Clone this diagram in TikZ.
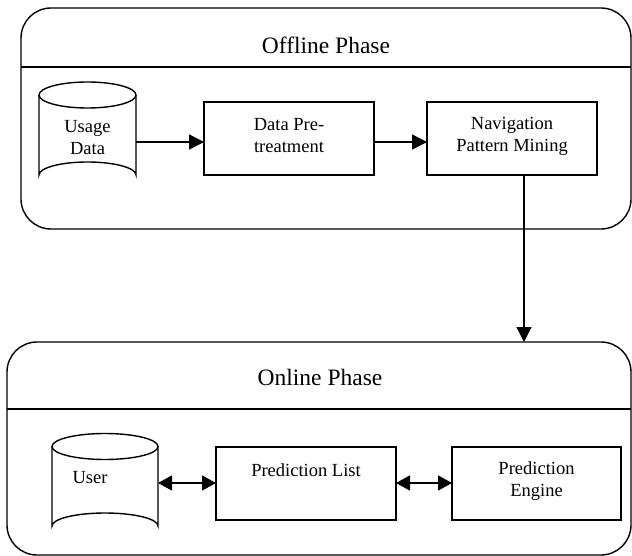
\documentclass[tikz,border=0pt]{standalone}
\usepackage{fontspec}
\setmainfont{Liberation Serif}
\usetikzlibrary{arrows.meta}
\begin{document}
\begin{tikzpicture}[x=1pt,y=-1pt,
  every node/.style={inner sep=0pt,outer sep=0pt},
  phase/.style={draw,line width=1.4pt,rounded corners=30pt},
  proc/.style={draw,line width=1.4pt,minimum height=73pt,align=center,
    font=\fontsize{18.5}{22}\selectfont},
  ttl/.style={font=\fontsize{23.5}{27}\selectfont},
  lbl/.style={align=center,font=\fontsize{18.5}{22}\selectfont},
  flow/.style={line width=1.4pt,-{Triangle[length=15pt,width=15pt]}},
  bflow/.style={line width=1.4pt,{Triangle[length=14pt,width=15pt]}-{Triangle[length=14pt,width=15pt]}},
  cyl/.style={line width=1.4pt}]
\useasboundingbox (0,0) rectangle (632,556);
% Offline phase
\draw[phase] (21,8) rectangle (631,229);
\draw[line width=1.4pt] (21,67) -- (631,67);
\node[ttl] (offt) at (326,45) {Offline Phase};
% Usage Data cylinder
\node[minimum width=97pt,minimum height=106pt] (ud) at (87.5,135) {};
\draw[cyl] (87.5,95) ellipse [x radius=48.5,y radius=13];
\draw[cyl] (39,95) -- (39,175) arc[start angle=180,end angle=360,x radius=48.5,y radius=13] -- (136,95);
\node[lbl] (udt) at (87.5,138) {Usage\\Data};
\node[proc,minimum width=170pt] (dp) at (289,138.5) {};
\node[lbl] (dpt) at (289,136) {Data Pre-\\treatment};
\node[proc,minimum width=170pt] (nav) at (512,138.5) {};
\node[lbl] (navt) at (512,136) {Navigation\\Pattern Mining};
\draw[flow] (ud.east |- 0,142) -- (dp.west |- 0,142);
\draw[flow] (dp.east |- 0,142) -- (nav.west |- 0,142);
% Online phase
\draw[phase] (7,342) rectangle (631,555);
\draw[line width=1.4pt] (7,409) -- (631,409);
\node[ttl] (ont) at (320,377) {Online Phase};
\coordinate (ontop) at (524,342);
\draw[flow] (nav.south -| ontop) -- (ontop);
% User cylinder
\node[minimum width=106pt,minimum height=106pt] (usr) at (105,486) {};
\draw[cyl] (105,446.5) ellipse [x radius=53,y radius=13];
\draw[cyl] (52,446.5) -- (52,526) arc[start angle=180,end angle=360,x radius=53,y radius=13] -- (158,446.5);
\node[lbl] (usrt) at (90,478) {User};
\node[proc,minimum width=180pt] (pl) at (306,483.5) {};
\node[lbl] (plt) at (306,470) {Prediction List};
\node[proc,minimum width=169pt] (pe) at (536.5,483.5) {};
\node[lbl] (pet) at (536.5,481) {Prediction\\Engine};
\draw[bflow] (usr.east |- 0,483) -- (pl.west |- 0,483);
\draw[bflow] (pl.east |- 0,483) -- (pe.west |- 0,483);
\end{tikzpicture}
\end{document}
